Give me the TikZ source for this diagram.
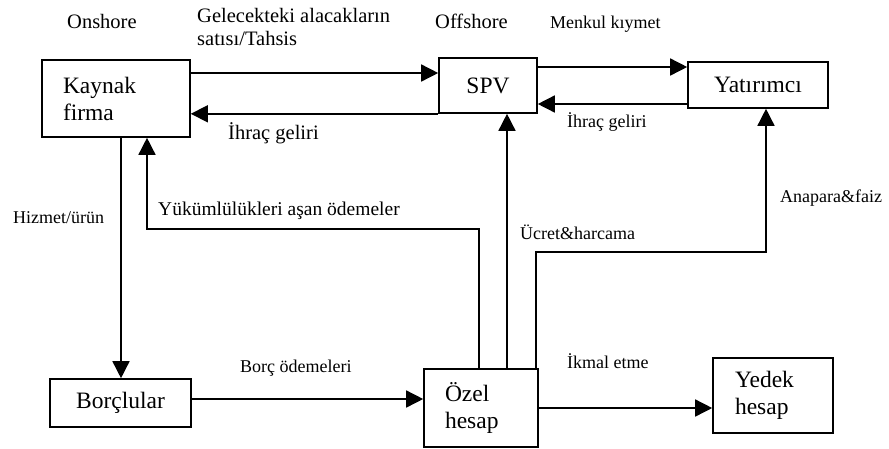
\documentclass[tikz,border=0pt]{standalone}
\usepackage{fontspec}
\setmainfont{Liberation Serif}
\usetikzlibrary{arrows.meta}

\begin{document}
\begin{tikzpicture}[x=1pt,y=-1pt,
    box/.style={draw,line width=1.6pt,inner sep=0pt,font=\fontsize{23.5}{27}\selectfont},
    flow/.style={line width=1.5pt,-{Triangle[length=17pt,width=17pt]}},
    lblbig/.style={inner sep=0pt,anchor=base west,font=\fontsize{20.5}{23}\selectfont},
    lblsmall/.style={inner sep=0pt,anchor=base west,font=\fontsize{18}{20}\selectfont}]
  \useasboundingbox (0,0) rectangle (889,448);

  \node[box,minimum width=148pt,minimum height=77pt,text width=106pt,align=left] (kaynak) at (116,98.5) {Kaynak\\firma};
  \node[box,minimum width=98pt,minimum height=55pt] (spv) at (488,85.5) {SPV};
  \node[box,minimum width=140pt,minimum height=46pt] (yat) at (758,85) {Yatırımcı};
  \node[box,minimum width=141pt,minimum height=48pt] (borc) at (120.5,403) {Borçlular};
  \node[box,minimum width=114pt,minimum height=78pt,text width=72pt,align=left] (ozel) at (481,408) {Özel\\hesap};
  \node[box,minimum width=120pt,minimum height=75pt,text width=76pt,align=left] (yedek) at (773,395.5) {Yedek\\hesap};

  \coordinate (turnA) at (147,229);
  \coordinate (turnB) at (766,252);

  \draw[flow] (kaynak.east |- 0,73) -- (spv.west |- 0,73);
  \draw[flow] (spv.south west) -- (kaynak.east |- spv.south west);
  \draw[flow] (spv.east |- 0,67) -- (yat.west |- 0,67);
  \draw[flow] (yat.west |- 0,104) -- (spv.east |- 0,104);
  \draw[flow] (121,0 |- kaynak.south) -- (121,0 |- borc.north);
  \draw[flow] (479,0 |- ozel.north) |- (turnA) -- (turnA |- kaynak.south);
  \draw[flow] (507,0 |- ozel.north) -- (507,0 |- spv.south);
  \draw[flow] (536,0 |- ozel.north) |- (turnB) -- (turnB |- yat.south);
  \draw[flow] (borc.east |- 0,399) -- (ozel.west |- 0,399);
  \draw[flow] (ozel.east |- 0,408) -- (yedek.west |- 0,408);

  \node[lblbig] (onshore) at (67,28) {Onshore};
  \node[lblbig] (satisA) at (197,22) {Gelecekteki alacakların};
  \node[lblbig] (satisB) at (197,45) {satısı/Tahsis};
  \node[lblbig] (ihracA) at (228,139) {İhraç geliri};
  \node[lblbig] (offshore) at (435,28) {Offshore};
  \node[lblsmall] (menkul) at (550,28) {Menkul kıymet};
  \node[lblsmall] (ihracB) at (567,127) {İhraç geliri};
  \node[lblsmall] (hizmet) at (13,223) {Hizmet/ürün};
  \node[lblbig,font=\fontsize{19.5}{22}\selectfont] (asan) at (158,215) {Yükümlülükleri aşan ödemeler};
  \node[lblsmall] (ucret) at (520,239) {Ücret\&harcama};
  \node[lblsmall] (anapara) at (780,202) {Anapara\&faiz};
  \node[lblsmall] (borcode) at (240,372) {Borç ödemeleri};
  \node[lblsmall] (ikmal) at (567,368) {İkmal etme};
\end{tikzpicture}
\end{document}
